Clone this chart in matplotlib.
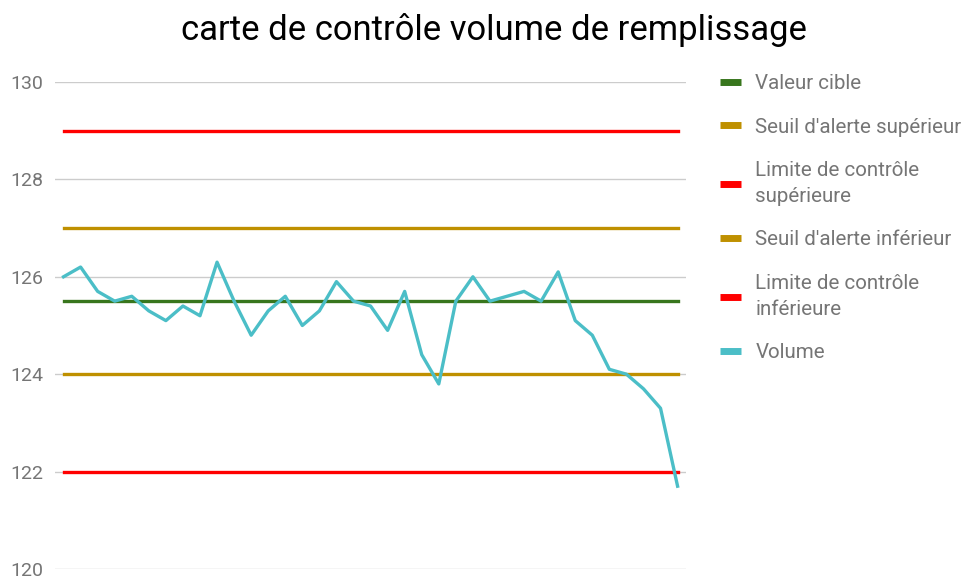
import matplotlib.pyplot as plt

# données de la carte de contrôle
volume = [126.0, 126.2, 125.7, 125.5, 125.6, 125.3, 125.1, 125.4, 125.2, 126.3,
          125.5, 124.8, 125.3, 125.6, 125.0, 125.3, 125.9, 125.5, 125.4, 124.9,
          125.7, 124.4, 123.8, 125.5, 126.0, 125.5, 125.6, 125.7, 125.5, 126.1,
          125.1, 124.8, 124.1, 124.0, 123.7, 123.3, 121.7]
valeur_cible = 125.5
seuil_sup = 127
limite_sup = 129
seuil_inf = 124
limite_inf = 122
yticks = [120, 122, 124, 126, 128, 130]

plt.rcParams['font.family'] = ['Roboto', 'DejaVu Sans']

fig = plt.figure(figsize=(9.65, 5.79), dpi=100)
ax = fig.add_axes([0.057, 0.0173, 0.654, 0.8411])

n = len(volume)
x = list(range(n))
lw = 2.4
ax.plot(x, [valeur_cible] * n, color='#38761d', lw=lw, label='Valeur cible')
ax.plot(x, [seuil_sup] * n, color='#bf9000', lw=lw, label="Seuil d'alerte supérieur")
ax.plot(x, [limite_sup] * n, color='#ff0000', lw=lw, label='Limite de contrôle\nsupérieure')
ax.plot(x, [seuil_inf] * n, color='#bf9000', lw=lw, label="Seuil d'alerte inférieur")
ax.plot(x, [limite_inf] * n, color='#ff0000', lw=lw, label='Limite de contrôle\ninférieure')
ax.plot(x, volume, color='#4bbec7', lw=lw, label='Volume')

ax.set_xlim(-0.5, n - 0.5)
ax.set_ylim(120, 130)
ax.set_yticks(yticks)
ax.set_xticks([])
ax.grid(axis='y', color='#cccccc', lw=1)
ax.set_axisbelow(True)
for s in ax.spines.values():
    s.set_visible(False)
ax.tick_params(axis='y', length=0, pad=8.5, labelsize=14, labelcolor='#757575')

fig.text(0.512, 0.948, 'carte de contrôle volume de remplissage',
         ha='center', va='center', fontsize=24.9, color='black')

leg = ax.legend(loc='upper left', bbox_to_anchor=(0.738, 0.886),
                bbox_transform=fig.transFigure, frameon=False,
                fontsize=14.8, handlelength=1.0, handletextpad=0.7,
                labelspacing=1.19, borderaxespad=0)
for t in leg.get_texts():
    t.set_color('#757575')
    t.set_linespacing(1.45)
for h in leg.get_lines():
    h.set_linewidth(5)
    h.set_solid_capstyle('butt')

fig.savefig('out.png', dpi=100)
